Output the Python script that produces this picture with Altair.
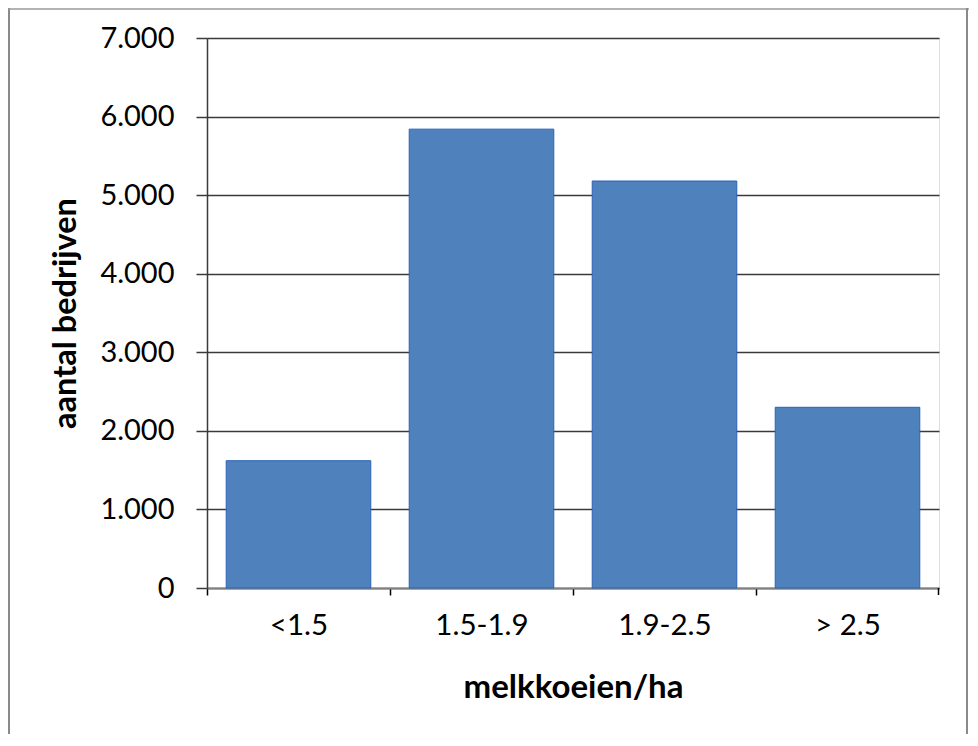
import altair as alt
import pandas as pd

categories = ["<1.5", "1.5-1.9", "1.9-2.5", "> 2.5"]
counts = [1620, 5840, 5180, 2300]
y_ticks = [0, 1000, 2000, 3000, 4000, 5000, 6000, 7000]

df = pd.DataFrame({"klasse": categories, "aantal": counts})

FONT = "Lato"
GRID = "#3a3a3a"
W, H = 732, 550
STEP = W / len(categories)

bars = alt.Chart(df).mark_bar(
    color="#4F81BD", stroke="#2A62B8", strokeWidth=1
).encode(
    x=alt.X(
        "klasse:N",
        sort=categories,
        scale=alt.Scale(paddingInner=0.21, paddingOuter=0.105),
        axis=alt.Axis(
            title="melkkoeien/ha",
            labelAngle=0,
            labelFont=FONT,
            labelFontSize=29.5,
            labelColor="#000000",
            labelPadding=16,
            tickOffset=-STEP / 2,
            labelOffset=STEP / 2,
            tickSize=7,
            tickColor="#000000",
            tickWidth=1.5,
            domainColor="#808080",
            domainWidth=2,
            titleFont=FONT,
            titleFontSize=33,
            titleFontWeight="bold",
            titleColor="#000000",
            titleBaseline="alphabetic",
            titleY=109,
        ),
    ),
    y=alt.Y(
        "aantal:Q",
        scale=alt.Scale(domain=[0, 7000], nice=False),
        axis=alt.Axis(
            title="aantal bedrijven",
            values=y_ticks,
            labelExpr="replace(format(datum.value, ','), ',', '.')",
            labelFont=FONT,
            labelFontSize=29,
            labelColor="#000000",
            labelPadding=22,
            tickSize=11,
            tickColor=GRID,
            tickWidth=1.5,
            grid=True,
            gridColor=GRID,
            gridWidth=1.5,
            domainColor=GRID,
            domainWidth=1.5,
            titleFont=FONT,
            titleFontSize=32.5,
            titleFontWeight="bold",
            titleColor="#000000",
            titleAngle=-90,
            titleBaseline="bottom",
            titleX=-125,
            titleY=275,
        ),
    ),
)

one = alt.Data(values=[{"k": 1}])
end_tick = alt.Chart(one).mark_rule(color="#000000", strokeWidth=1.5).encode(
    x=alt.value(W - 0.5), y=alt.value(H), y2=alt.value(H + 7)
)
frame_left = alt.Chart(one).mark_rule(color="#8a8a8a", strokeWidth=2).encode(
    x=alt.value(-198), y=alt.value(-30), y2=alt.value(700)
)
frame_top = alt.Chart(one).mark_rule(color="#9a9a9a", strokeWidth=1.5).encode(
    x=alt.value(-199), x2=alt.value(762), y=alt.value(-29)
)
frame_right = alt.Chart(one).mark_rule(color="#8a8a8a", strokeWidth=2).encode(
    x=alt.value(760), y=alt.value(-30), y2=alt.value(700)
)

chart = alt.layer(bars, end_tick, frame_left, frame_top, frame_right).properties(
    width=W,
    height=H,
    autosize=alt.AutoSizeParams(type="none"),
    padding={"left": 199, "top": 30, "right": 30, "bottom": 146},
).configure_view(stroke=None).configure(background="#ffffff")

chart.save("out.html", embed_options={"renderer": "svg", "actions": False})
